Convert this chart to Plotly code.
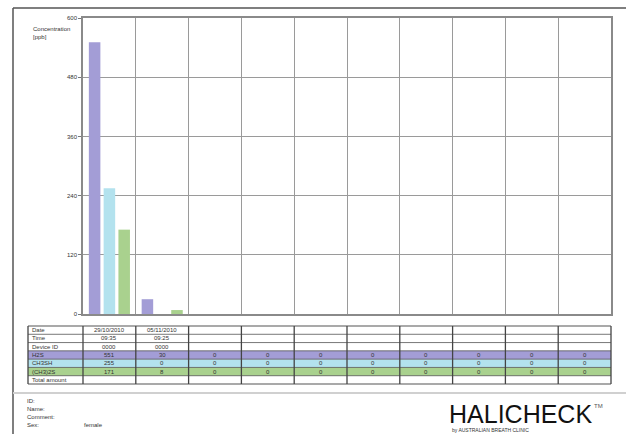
import plotly.graph_objects as go

# ---------------- data ----------------
columns = list(range(10))
dates = ["29/10/2010", "05/11/2010", "", "", "", "", "", "", "", ""]
times = ["09:35", "09:25", "", "", "", "", "", "", "", ""]
device_ids = ["0000", "0000", "", "", "", "", "", "", "", ""]
h2s = [551, 30, 0, 0, 0, 0, 0, 0, 0, 0]
ch3sh = [255, 0, 0, 0, 0, 0, 0, 0, 0, 0]
ch32s = [171, 8, 0, 0, 0, 0, 0, 0, 0, 0]
row_labels = ["Date", "Time", "Device ID", "H2S", "CH3SH", "(CH3)2S", "Total amount"]
y_ticks = [0, 120, 240, 360, 480, 600]

C_H2S = "#a39dd6"
C_CH3SH = "#b3e2ee"
C_CH32S = "#a9d18e"

W, H = 626, 434
L, R, T, B = 83, 611, 18, 314  # plot area in pixels


def px(x):
    return (x - L) / (R - L)


def py(y):
    return (B - y) / (B - T)


FONT = "Liberation Sans, Arial, sans-serif"

fig = go.Figure()
for name, vals, col in [("H2S", h2s, C_H2S), ("CH3SH", ch3sh, C_CH3SH), ("(CH3)2S", ch32s, C_CH32S)]:
    fig.add_trace(go.Bar(x=columns, y=vals, name=name, marker=dict(color=col, line=dict(width=0)),
                         showlegend=False, hoverinfo="y"))

shapes = []
annotations = []

# outer frame and footer separator
shapes.append(dict(type="line", xref="paper", yref="paper", x0=px(13), x1=px(640), y0=py(8), y1=py(8),
                   line=dict(color="#555555", width=1.5)))
shapes.append(dict(type="line", xref="paper", yref="paper", x0=px(13), x1=px(13), y0=py(8), y1=py(440),
                   line=dict(color="#555555", width=1.5)))
shapes.append(dict(type="line", xref="paper", yref="paper", x0=px(13), x1=px(640), y0=py(393), y1=py(393),
                   line=dict(color="#d0d0d0", width=2)))

# table
tbl_left, tbl_right = 28, R
tbl_top, tbl_bot = 326, 384
nrows = len(row_labels)
rh = (tbl_bot - tbl_top) / nrows
col_w = (R - L) / len(columns)
row_fills = {3: C_H2S, 4: C_CH3SH, 5: C_CH32S}
for i, c in row_fills.items():
    shapes.append(dict(type="rect", xref="paper", yref="paper", x0=px(tbl_left), x1=px(tbl_right),
                       y0=py(tbl_top + i * rh), y1=py(tbl_top + (i + 1) * rh), fillcolor=c,
                       line=dict(width=0), layer="below"))
for i in range(nrows + 1):
    y = tbl_top + i * rh
    w = 1.2 if i in (0, nrows) else 0.8
    shapes.append(dict(type="line", xref="paper", yref="paper", x0=px(tbl_left), x1=px(tbl_right),
                       y0=py(y), y1=py(y), line=dict(color="#555555", width=w)))
vx = [tbl_left] + [L + k * col_w for k in range(len(columns) + 1)]
for x in vx:
    shapes.append(dict(type="line", xref="paper", yref="paper", x0=px(x), x1=px(x),
                       y0=py(tbl_top), y1=py(tbl_bot), line=dict(color="#444444", width=1.3)))

rows_vals = [dates, times, device_ids, h2s, ch3sh, ch32s, [""] * 10]
for i, lab in enumerate(row_labels):
    yc = tbl_top + (i + 0.5) * rh
    annotations.append(dict(xref="paper", yref="paper", x=px(tbl_left + 2), y=py(yc), text=lab,
                            showarrow=False, xanchor="left", yanchor="middle",
                            font=dict(family=FONT, size=6, color="#333333")))
    for k, v in enumerate(rows_vals[i]):
        s = str(v)
        if s == "":
            continue
        annotations.append(dict(xref="paper", yref="paper", x=px(L + (k + 0.5) * col_w), y=py(yc), text=s,
                                showarrow=False, xanchor="center", yanchor="middle",
                                font=dict(family=FONT, size=6, color="#333333")))

# y-axis title
annotations.append(dict(xref="paper", yref="paper", x=px(31), y=py(24), text="Concentration<br>[ppb]",
                        showarrow=False, xanchor="left", yanchor="top", align="left",
                        font=dict(family=FONT, size=6, color="#333333")))

# footer
for j, t in enumerate(["ID:", "Name:", "Comment:", "Sex:"]):
    annotations.append(dict(xref="paper", yref="paper", x=px(25), y=py(401 + j * 8), text=t,
                            showarrow=False, xanchor="left", yanchor="middle",
                            font=dict(family=FONT, size=6, color="#333333")))
annotations.append(dict(xref="paper", yref="paper", x=px(82), y=py(425), text="female",
                        showarrow=False, xanchor="left", yanchor="middle",
                        font=dict(family=FONT, size=6, color="#333333")))
annotations.append(dict(xref="paper", yref="paper", x=px(447), y=py(414), text="HALICHECK",
                        showarrow=False, xanchor="left", yanchor="middle",
                        font=dict(family=FONT, size=25, color="#111111")))
annotations.append(dict(xref="paper", yref="paper", x=px(592), y=py(406), text="TM",
                        showarrow=False, xanchor="left", yanchor="middle",
                        font=dict(family=FONT, size=6, color="#555555")))
annotations.append(dict(xref="paper", yref="paper", x=px(450), y=py(430), text="by AUSTRALIAN BREATH CLINIC",
                        showarrow=False, xanchor="left", yanchor="middle",
                        font=dict(family=FONT, size=5, color="#333333")))

fig.update_layout(
    width=W, height=H,
    margin=dict(l=L, r=W - R, t=T, b=H - B, pad=0),
    paper_bgcolor="white", plot_bgcolor="white",
    barmode="group", bargap=0.16, bargroupgap=0.22,
    font=dict(family=FONT, size=6, color="#333333"),
    shapes=shapes, annotations=annotations,
    xaxis=dict(range=[-0.5, 9.5], tickvals=[k - 0.5 for k in range(11)], showticklabels=False,
               ticks="", showgrid=True, gridcolor="#9a9a9a", gridwidth=1, zeroline=False,
               showline=True, linecolor="#8a8a8a", linewidth=1.5, mirror=True, fixedrange=True),
    yaxis=dict(range=[0, 600], tickvals=y_ticks, ticktext=[str(v) for v in y_ticks],
               ticks="outside", ticklen=3, tickcolor="#777777", showgrid=True, gridcolor="#9a9a9a",
               gridwidth=1, zeroline=False, showline=True, linecolor="#8a8a8a", linewidth=1.5,
               mirror=True, tickfont=dict(size=6, color="#333333"), fixedrange=True),
)

fig.write_html("out.html", config={"displayModeBar": False},
               post_script="document.body.style.margin='0';")
